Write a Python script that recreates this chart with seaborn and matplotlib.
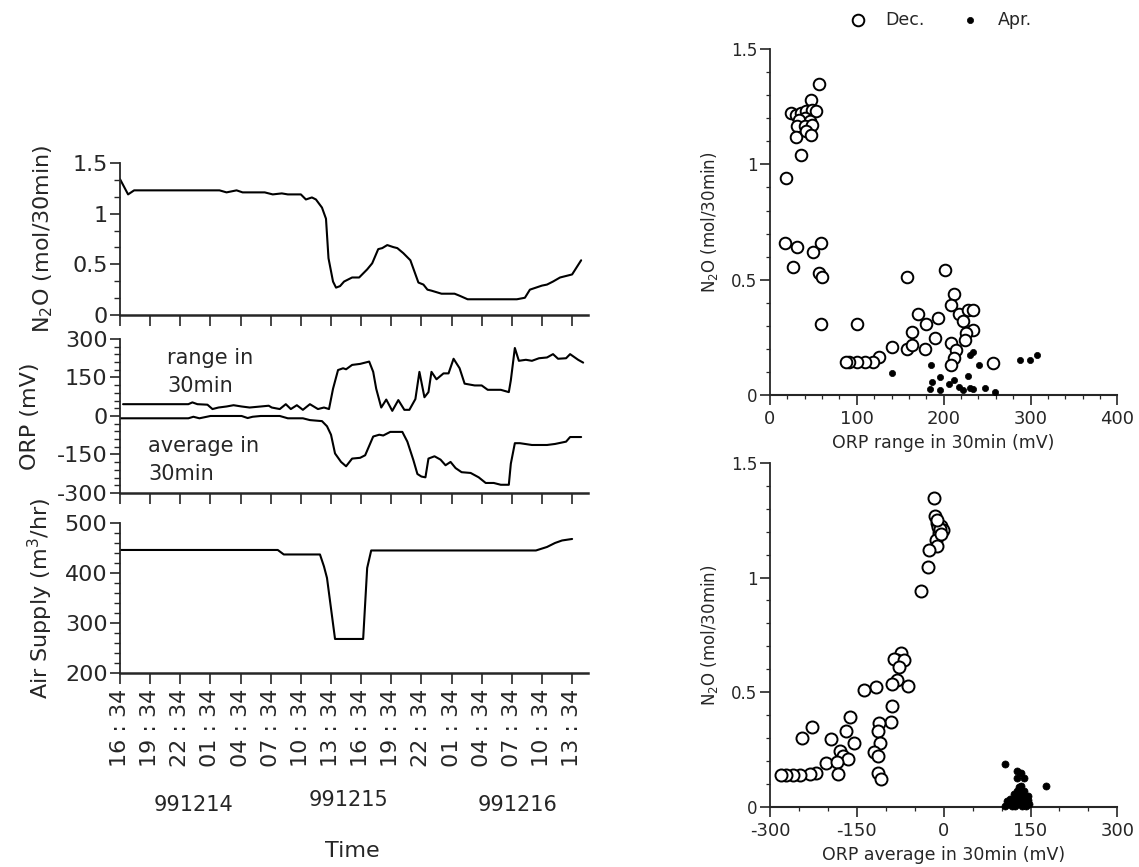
import numpy as np
import pandas as pd
import seaborn as sns
import matplotlib
matplotlib.use("Agg")
import matplotlib.pyplot as plt
from matplotlib.ticker import MultipleLocator, FixedLocator

# time axis: hours since 991214 16:34
tick_hours = list(range(0, 46, 3))
tick_labels = ["16 : 34", "19 : 34", "22 : 34", "01 : 34", "04 : 34", "07 : 34", "10 : 34", "13 : 34",
               "16 : 34", "19 : 34", "22 : 34", "01 : 34", "04 : 34", "07 : 34", "10 : 34", "13 : 34"]
dates = ["991214", "991215", "991216"]
date_hours = [7.3, 22.7, 39.6]

# N2O emission (mol/30min)
n2o_t = [0, 0.8, 1.4, 9.9, 10.6, 11.6, 12.2, 14.4, 15.2, 16.1, 16.7, 18.0, 18.5, 19.1, 19.5, 20.1, 20.5,
         20.75, 21.2, 21.5, 21.9, 22.3, 23.1, 23.8, 24.6, 25.1, 25.7, 26.1, 26.6, 27.2, 27.6, 28.2, 28.9,
         29.3, 29.7, 30.2, 30.6, 31.0, 32.0, 33.3, 33.8, 34.6, 35.5, 39.5, 40.3, 40.8, 41.4, 42.0, 42.5,
         43.1, 43.8, 45.0, 45.9]
n2o_v = [1.34, 1.19, 1.23, 1.23, 1.21, 1.23, 1.21, 1.21, 1.19, 1.20, 1.19, 1.19, 1.14, 1.16, 1.14, 1.06, 0.95,
         0.56, 0.33, 0.27, 0.285, 0.33, 0.37, 0.37, 0.45, 0.51, 0.65, 0.66, 0.69, 0.67, 0.66, 0.61, 0.54,
         0.43, 0.32, 0.30, 0.25, 0.24, 0.21, 0.21, 0.19, 0.155, 0.155, 0.155, 0.17, 0.25, 0.27, 0.29, 0.30,
         0.33, 0.37, 0.40, 0.54]

# ORP range in 30min (mV)
rng_t = [0.3, 6.8, 7.2, 7.7, 8.7, 9.2, 9.8, 10.6, 11.3, 12.1, 12.9, 14.0, 14.8, 15.1, 15.9, 16.5, 17.0,
         17.6, 18.2, 18.9, 19.7, 20.3, 20.8, 21.2, 21.7, 22.2, 22.5, 23.1, 23.9, 24.8, 25.2, 25.5, 26.0,
         26.5, 27.1, 27.7, 28.3, 28.8, 29.4, 29.8, 30.3, 30.7, 31.0, 31.5, 32.2, 32.7, 33.2, 33.8, 34.3,
         35.3, 36.0, 36.6, 37.9, 38.7, 38.9, 39.3, 39.7, 40.4, 41.0, 41.7, 42.5, 43.1, 43.6, 44.4, 44.8,
         45.6, 46.1]
rng_v = [46, 46, 53, 46, 44, 27, 33, 37, 42, 37, 33, 37, 40, 33, 27, 46, 27,
         42, 24, 46, 27, 33, 27, 106, 179, 186, 182, 199, 203, 212, 172, 106, 33,
         64, 20, 62, 24, 24, 66, 172, 73, 93, 172, 143, 166, 166, 223, 186, 126,
         119, 119, 102, 102, 93, 139, 265, 215, 219, 215, 225, 228, 241, 223, 225, 241,
         219, 208]

# ORP average in 30min (mV)
avg_t = [0, 6.8, 7.3, 7.9, 9.0, 12.1, 12.7, 13.2, 14.0, 15.9, 16.7, 18.2, 18.9, 20.1, 20.6, 21.0, 21.4,
         22.0, 22.5, 23.1, 23.9, 24.4, 25.2, 25.8, 26.2, 26.9, 28.1, 28.6, 29.2, 29.6, 30.0, 30.4, 30.7,
         31.3, 31.9, 32.4, 32.9, 33.4, 34.0, 34.9, 35.7, 36.4, 37.2, 37.9, 38.7, 38.9, 39.3, 39.8, 41.0,
         42.5, 43.3, 44.4, 44.8, 45.9]
avg_v = [-9, -9, -3, -9, 0, 0, -8, -3, 0, 0, -9, -9, -16, -20, -40, -73, -146,
         -179, -196, -166, -163, -153, -80, -73, -76, -62, -62, -100, -172, -226, -236, -239, -166,
         -157, -170, -192, -179, -203, -219, -222, -239, -261, -261, -268, -268, -186, -106, -106, -113,
         -113, -109, -100, -82, -82]

# air supply (m3/hr)
air_t = [0, 15.7, 16.3, 19.9, 20.3, 20.6, 21.4, 24.2, 24.6, 25.0, 41.4, 42.5, 43.3, 44.0, 45.0]
air_v = [446, 446, 437, 437, 413, 390, 268, 268, 410, 445, 445, 452, 460, 465, 468]

# scatter: N2O vs ORP range
dec_rng = [57, 47, 24, 30, 36, 42, 48, 53, 40, 34, 46, 31, 40, 48, 30, 42, 47, 36, 18, 17,
           31, 27, 50, 59, 57, 60, 59, 100, 158, 202, 212, 208, 170, 180, 193, 218, 228, 234, 222, 234,
           226, 163, 190, 208, 224, 158, 163, 141, 178, 214, 212, 208, 126, 119, 109, 100, 91, 87, 257]
dec_rng_n2o = [1.35, 1.28, 1.223, 1.216, 1.223, 1.230, 1.237, 1.230, 1.201, 1.194, 1.187, 1.165, 1.165, 1.172,
               1.119, 1.143, 1.129, 1.04, 0.94, 0.66, 0.64, 0.555, 0.62, 0.66, 0.53, 0.51, 0.31, 0.31, 0.51,
               0.54, 0.44, 0.39, 0.35, 0.31, 0.335, 0.35, 0.37, 0.37, 0.32, 0.28, 0.27, 0.275, 0.246, 0.227,
               0.239, 0.198, 0.217, 0.207, 0.198, 0.195, 0.16, 0.13, 0.166, 0.145, 0.145, 0.145, 0.145, 0.145,
               0.14]
apr_rng = [141, 185, 196, 186, 184, 196, 206, 212, 218, 222, 230, 228, 230, 234, 241, 234, 248, 259,
           288, 299, 308]
apr_rng_n2o = [0.097, 0.13, 0.08, 0.058, 0.025, 0.022, 0.048, 0.065, 0.036, 0.022, 0.029, 0.082, 0.174,
               0.188, 0.13, 0.025, 0.029, 0.014, 0.152, 0.152, 0.174]

# scatter: N2O vs ORP average
dec_avg = [-16, -15, -11, -5, -2, -8, -14, -11, -26, -27, -40, -74, -80, -86, -68, -78, -80, -89, -62, -117,
           -137, -89, -91, -111, -113, -110, -120, -113, -113, -109, -161, -168, -155, -179, -174, -165, -194,
           -227, -245, -204, -185, -182, -220, -230, -248, -260, -272, -281, -10, -6, -4, -12]
dec_avg_n2o = [1.347, 1.267, 1.238, 1.226, 1.209, 1.194, 1.165, 1.136, 1.118, 1.048, 0.943, 0.669, 0.639,
               0.647, 0.639, 0.61, 0.555, 0.537, 0.527, 0.523, 0.511, 0.438, 0.369, 0.365, 0.33, 0.277,
               0.238, 0.223, 0.150, 0.121, 0.391, 0.333, 0.277, 0.245, 0.223, 0.209, 0.296, 0.35, 0.299,
               0.19, 0.194, 0.143, 0.150, 0.146, 0.14, 0.14, 0.14, 0.14, 1.22, 1.21, 1.19, 1.25]
apr_avg = [106, 127, 133, 139, 126, 177, 106, 112, 118, 124, 127, 130, 133, 136, 142, 148, 139, 121, 115,
           130, 124, 136, 145, 109, 127, 133, 118, 142, 128, 135, 122, 140, 131, 126, 138, 145]
apr_avg_n2o = [0.187, 0.158, 0.150, 0.128, 0.128, 0.092, 0.004, 0.012, 0.026, 0.04, 0.07, 0.085, 0.055,
               0.034, 0.026, 0.012, 0.07, 0.058, 0.034, 0.019, 0.004, 0.004, 0.048, 0.026, 0.048, 0.092,
               0.004, 0.004, 0.03, 0.02, 0.015, 0.045, 0.065, 0.06, 0.01, 0.03]

sns.set_style("ticks")
plt.rcParams["font.family"] = ["DejaVu Sans"]
plt.rcParams["mathtext.default"] = "regular"
plt.rcParams["axes.unicode_minus"] = False

fig = plt.figure(figsize=(11.39, 8.67), dpi=100)

# left stacked time series
ax1 = fig.add_axes([0.1054, 0.6367, 0.411, 0.1753])
ax2 = fig.add_axes([0.1054, 0.4314, 0.411, 0.1776])
ax3 = fig.add_axes([0.1054, 0.2238, 0.411, 0.1730])

sns.lineplot(x=n2o_t, y=n2o_v, ax=ax1, color="black", lw=1.5)
sns.lineplot(x=rng_t, y=rng_v, ax=ax2, color="black", lw=1.5)
sns.lineplot(x=avg_t, y=avg_v, ax=ax2, color="black", lw=1.5)
sns.lineplot(x=air_t, y=air_v, ax=ax3, color="black", lw=1.5)

ax1.set_ylim(0, 1.5)
ax1.yaxis.set_major_locator(FixedLocator([0, 0.5, 1, 1.5]))
ax1.set_yticklabels(["0", "0.5", "1", "1.5"])
ax1.yaxis.set_minor_locator(MultipleLocator(0.5 / 3))
ax2.set_ylim(-300, 300)
ax2.yaxis.set_major_locator(MultipleLocator(150))
ax2.yaxis.set_minor_locator(MultipleLocator(30))
ax3.set_ylim(200, 500)
ax3.yaxis.set_major_locator(MultipleLocator(100))
ax3.yaxis.set_minor_locator(MultipleLocator(20))

for ax in (ax1, ax2, ax3):
    ax.set_xlim(0, 46.6)
    ax.set_xticks(tick_hours)
    sns.despine(ax=ax)
    ax.spines["left"].set_linewidth(1.3)
    ax.spines["bottom"].set_linewidth(1.8)
    ax.tick_params(axis="y", which="major", length=7, width=1.2, labelsize=16, pad=2, direction="out")
    ax.tick_params(axis="y", which="minor", length=4, width=1.0, direction="out")
    ax.tick_params(axis="x", which="major", length=8, width=1.2, direction="out")
    ax.set_ylabel("")
    ax.set_xlabel("")

ax1.set_xticklabels([])
ax2.set_xticklabels([])
ax3.set_xticklabels(tick_labels, rotation=90, fontsize=16)

ax1.set_ylabel("N$_2$O (mol/30min)", fontsize=16)
ax2.set_ylabel("ORP (mV)", fontsize=16)
ax3.set_ylabel("Air Supply (m$^3$/hr)", fontsize=16)
ax1.yaxis.set_label_coords(-0.14, 0.5)
ax2.yaxis.set_label_coords(-0.17, 0.5)
ax3.yaxis.set_label_coords(-0.14, 0.5)

ax2.text(4.7, 170, "range in\n30min", fontsize=15, ha="left", va="center", linespacing=1.5)
ax2.text(2.8, -170, "average in\n30min", fontsize=15, ha="left", va="center", linespacing=1.5)

for h, d in zip(date_hours, dates):
    yy = -0.85 if d == "991215" else -0.88
    ax3.text(h, yy, d, transform=ax3.get_xaxis_transform(), fontsize=15, ha="center", va="center")
ax3.text(23.1, -1.19, "Time", transform=ax3.get_xaxis_transform(), fontsize=16, ha="center", va="center")

# right scatter plots
axr1 = fig.add_axes([0.676, 0.5444, 0.305, 0.399])
axr2 = fig.add_axes([0.676, 0.0692, 0.305, 0.397])

sns.scatterplot(x=dec_rng, y=dec_rng_n2o, ax=axr1, marker="o", s=70, facecolor="white",
                edgecolor="black", linewidth=1.4, label="Dec.", clip_on=False, zorder=3)
sns.scatterplot(x=apr_rng, y=apr_rng_n2o, ax=axr1, marker="o", s=20, color="black",
                edgecolor="black", linewidth=0.5, label="Apr.", clip_on=False, zorder=4)
sns.scatterplot(x=dec_avg, y=dec_avg_n2o, ax=axr2, marker="o", s=75, facecolor="white",
                edgecolor="black", linewidth=1.4, clip_on=False, zorder=3)
sns.scatterplot(x=apr_avg, y=apr_avg_n2o, ax=axr2, marker="o", s=26, color="black",
                edgecolor="black", linewidth=0.5, clip_on=False, zorder=4)

axr1.set_xlim(0, 400)
axr1.xaxis.set_major_locator(MultipleLocator(100))
axr1.xaxis.set_minor_locator(MultipleLocator(20))
axr2.set_xlim(-300, 300)
axr2.xaxis.set_major_locator(MultipleLocator(150))
axr2.xaxis.set_minor_locator(MultipleLocator(50))

for ax in (axr1, axr2):
    ax.set_ylim(0, 1.5)
    ax.yaxis.set_major_locator(FixedLocator([0, 0.5, 1, 1.5]))
    ax.set_yticklabels(["0", "0.5", "1", "1.5"])
    ax.yaxis.set_minor_locator(MultipleLocator(0.1))
    sns.despine(ax=ax)
    ax.spines["left"].set_linewidth(1.3)
    ax.spines["bottom"].set_linewidth(1.5)
    ax.tick_params(axis="y", which="major", length=7, width=1.2, labelsize=12, pad=2)
    ax.tick_params(axis="x", which="major", length=7, width=1.2, labelsize=13, pad=4)
    ax.tick_params(which="minor", length=3, width=0.9)
    ax.set_ylabel("N$_2$O (mol/30min)", fontsize=12, labelpad=8)

axr1.set_xlabel("ORP range in 30min (mV)", fontsize=12.5, labelpad=4)
axr2.set_xlabel("ORP average in 30min (mV)", fontsize=12.5, labelpad=4)

handles, labels = axr1.get_legend_handles_labels()
if axr1.get_legend() is not None:
    axr1.get_legend().remove()
fig.legend(handles, labels, loc="center", bbox_to_anchor=(0.822, 0.977), ncol=2, frameon=False,
           fontsize=12.5, columnspacing=1.6, handletextpad=0.6, markerscale=1.0)

fig.savefig("out.png", dpi=100)
